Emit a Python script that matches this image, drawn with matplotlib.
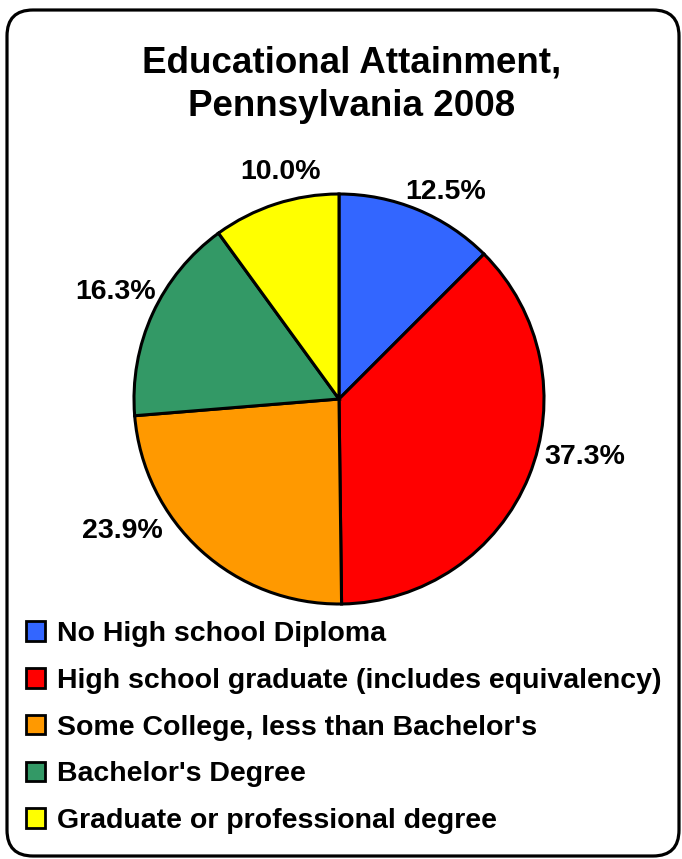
import matplotlib.pyplot as plt
from matplotlib.patches import FancyBboxPatch, Patch

plt.rcParams['font.family'] = ['Liberation Sans', 'DejaVu Sans']
plt.rcParams['font.weight'] = 'bold'

categories = ["No High school Diploma",
              "High school graduate (includes equivalency)",
              "Some College, less than Bachelor's",
              "Bachelor's Degree",
              "Graduate or professional degree"]
shares = [12.5, 37.3, 23.9, 16.3, 10.0]
colors = ["#3366FF", "#FF0000", "#FF9900", "#339966", "#FFFF00"]

# label centres, in units of the pie radius
label_xy = [(0.522, 1.010), (1.200, -0.283), (-1.059, -0.644),
            (-1.088, 0.522), (-0.283, 1.107)]

W, H = 682, 859
fig = plt.figure(figsize=(W / 100, H / 100), dpi=100)

# background axes in pixel units for the frame and title
bg = fig.add_axes([0, 0, 1, 1])
bg.set_xlim(0, W)
bg.set_ylim(H, 0)
bg.axis('off')
frame = FancyBboxPatch((7, 10), 672, 846, boxstyle="round,pad=0,rounding_size=26",
                       fill=False, edgecolor='black', linewidth=2.3)
bg.add_patch(frame)
bg.text(352, 63, "Educational Attainment,", ha='center', va='center',
        fontsize=26.5, fontweight='bold')
bg.text(352, 106, "Pennsylvania 2008", ha='center', va='center',
        fontsize=26.5, fontweight='bold')

# pie
cx, cy, r = 339, 399, 205
ax = fig.add_axes([(cx - r) / W, (H - cy - r) / H, 2 * r / W, 2 * r / H])
wedges, _ = ax.pie(shares, colors=colors, startangle=90, counterclock=False,
                   radius=1, wedgeprops=dict(edgecolor='black', linewidth=2.2))
ax.set_xlim(-1, 1)
ax.set_ylim(-1, 1)
ax.set_aspect('equal')
for v, (lx, ly) in zip(shares, label_xy):
    ax.text(lx, ly, f"{v:.1f}%", ha='center', va='center',
            fontsize=20.5, fontweight='bold', clip_on=False)

handles = [Patch(facecolor=c, edgecolor='black', linewidth=2.0) for c in colors]
fig.legend(handles, categories, loc='upper left',
           bbox_to_anchor=(26 / W, 1 - 621 / H), frameon=False,
           prop=dict(size=20.5, weight='bold'), handlelength=0.68,
           handleheight=0.68, handletextpad=0.42, labelspacing=0.73,
           borderpad=0, borderaxespad=0)

fig.savefig("out.png", dpi=100)
